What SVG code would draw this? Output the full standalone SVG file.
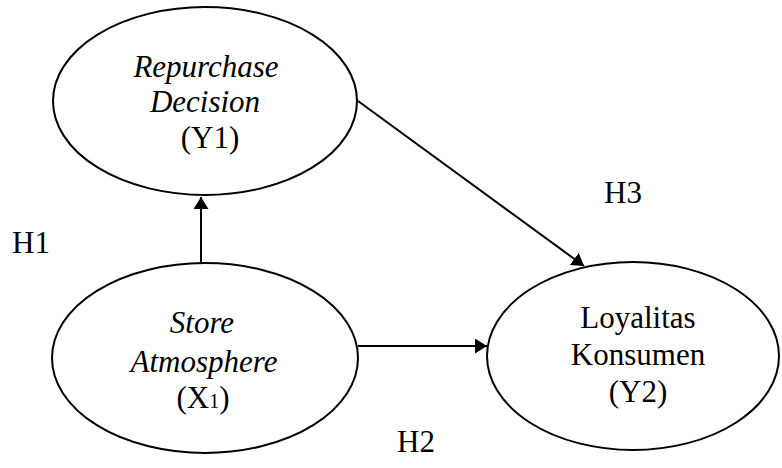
<svg xmlns="http://www.w3.org/2000/svg" width="782" height="468" viewBox="0 0 782 468">
<defs>
<style>
.n{fill:#fff;stroke:#000;stroke-width:2}
.t{font-family:"Liberation Serif","Times New Roman",serif;font-size:31px;fill:#000;text-anchor:middle}
.i{font-style:italic}
.c{stroke:#000;stroke-width:2;fill:none}
</style>
<marker id="ah" markerWidth="8" markerHeight="8" refX="7.5" refY="4" orient="auto" markerUnits="userSpaceOnUse" viewBox="0 0 8 8">
<path d="M0,0 L8,4 L0,8 Z" fill="#000"/>
</marker>
<marker id="a" markerWidth="12" markerHeight="15" refX="12" refY="7.5" orient="auto" markerUnits="userSpaceOnUse">
<path d="M0,0 L12,7.5 L0,15 Z" fill="#000"/>
</marker>
</defs>
<rect width="782" height="468" fill="#fff"/>
<g id="connectors">
<line class="c" x1="201" y1="262" x2="201" y2="197" marker-end="url(#a)"/>
<line class="c" x1="358" y1="346" x2="487" y2="346" marker-end="url(#a)"/>
<line class="c" x1="358" y1="101" x2="584" y2="266" marker-end="url(#a)"/>
</g>
<g id="repurchase">
<ellipse class="n" cx="205" cy="101" rx="152" ry="94"/>
<text class="t i" x="206" y="77">Repurchase</text>
<text class="t i" x="205" y="112">Decision</text>
<text class="t" x="210" y="148">(Y1)</text>
</g>
<g id="store">
<ellipse class="n" cx="205" cy="358" rx="153" ry="95"/>
<text class="t i" x="202" y="333">Store</text>
<text class="t i" x="204" y="372">Atmosphere</text>
<text class="t" x="203" y="408">(X<tspan font-size="20">1</tspan>)</text>
</g>
<g id="loyalitas">
<ellipse class="n" cx="633" cy="356" rx="146" ry="94"/>
<text class="t" x="638" y="328">Loyalitas</text>
<text class="t" x="638" y="365">Konsumen</text>
<text class="t" x="638" y="402">(Y2)</text>
</g>
<g id="labels">
<text class="t" x="31" y="253">H1</text>
<text class="t" x="416" y="452">H2</text>
<text class="t" x="623" y="203">H3</text>
</g>
</svg>
